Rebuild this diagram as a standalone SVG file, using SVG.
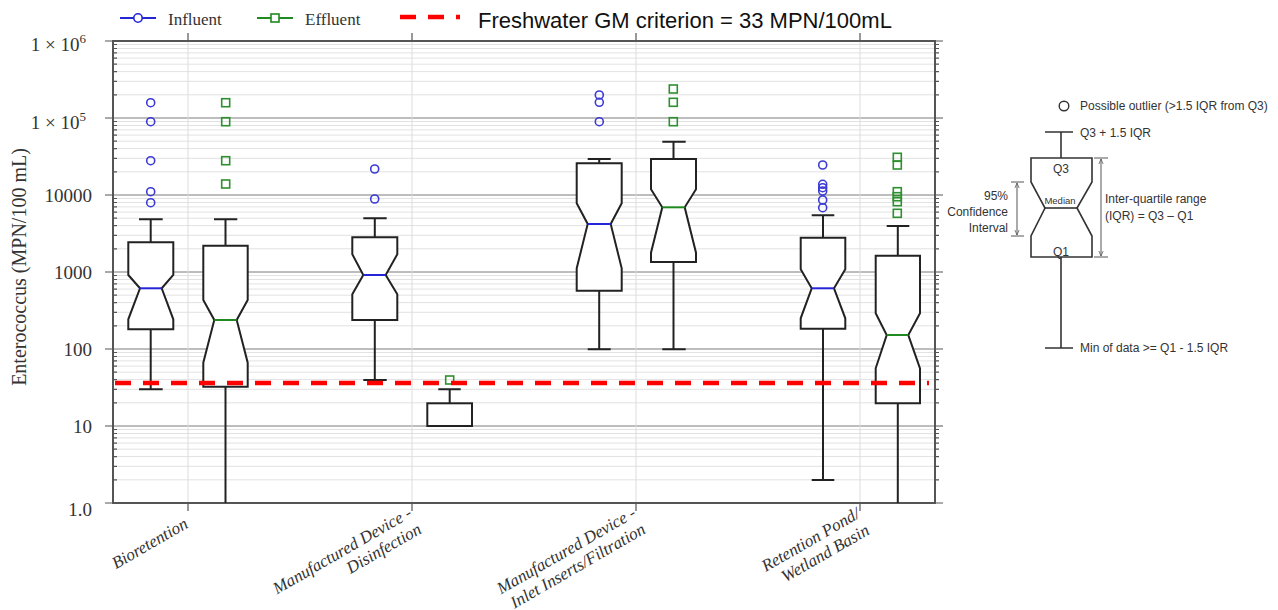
<svg xmlns="http://www.w3.org/2000/svg" width="1278" height="610" viewBox="0 0 1278 610">
<style>
.bg{fill:#ffffff}
.minor{stroke:#e2e2e2;stroke-width:1;fill:none}
.major{stroke:#a8a8a8;stroke-width:1.3;fill:none}
.vgrid{stroke:#dcdcdc;stroke-width:1;fill:none}
.axis{stroke:#555555;stroke-width:2;fill:none}
.tick{stroke:#555555;stroke-width:1.2;fill:none}
.box{fill:#ffffff;stroke:#222222;stroke-width:2}
.wh{stroke:#222222;stroke-width:2;fill:none}
.medI{stroke:#2525d8;stroke-width:2}
.medE{stroke:#1f8a1f;stroke-width:2}
.outI{fill:none;stroke:#3a3ad6;stroke-width:1.6}
.outE{fill:none;stroke:#2e8f2e;stroke-width:1.6}
.crit{stroke:#ff0000;stroke-width:4.3;stroke-dasharray:16 12;fill:none}
.ytl{font-family:"Liberation Serif",serif;font-size:19px;fill:#333333;text-anchor:end}
.xtl{font-family:"Liberation Serif",serif;font-style:italic;font-size:17px;fill:#333333;text-anchor:end}
.leg{font-family:"Liberation Serif",serif;font-size:17px;fill:#333333}
.crtxt{font-family:"Liberation Sans",Arial,sans-serif;font-size:22px;fill:#111111}
.key{font-family:"Liberation Sans",Arial,sans-serif;font-size:12px;fill:#333333}
.keys{font-family:"Liberation Sans",Arial,sans-serif;font-size:9.5px;fill:#333333}
.kl{stroke:#333333;stroke-width:1.6;fill:none}
.ka{stroke:#555555;stroke-width:1;fill:none}
</style>
<defs>
<marker id="ah" viewBox="0 0 8 8" refX="7" refY="4" markerWidth="6" markerHeight="6" orient="auto-start-reverse" markerUnits="userSpaceOnUse"><path d="M0,1 L7,4 L0,7" fill="none" stroke="#555555" stroke-width="1"/></marker>
<circle id="oc" r="4" class="outI"/>
<rect id="os" x="-4" y="-4" width="8" height="8" class="outE"/>
</defs>
<rect class="bg" x="0" y="0" width="1278" height="610"/>

<g id="grid">
<path class="minor" d="M113,479.8H935M113,466.3H935M113,456.6H935M113,449.2H935M113,443.1H935M113,437.9H935M113,433.5H935M113,429.5H935
M113,402.8H935M113,389.3H935M113,379.6H935M113,372.2H935M113,366.1H935M113,360.9H935M113,356.5H935M113,352.5H935
M113,325.8H935M113,312.3H935M113,302.6H935M113,295.2H935M113,289.1H935M113,283.9H935M113,279.5H935M113,275.5H935
M113,248.8H935M113,235.3H935M113,225.6H935M113,218.2H935M113,212.1H935M113,206.9H935M113,202.5H935M113,198.5H935
M113,171.8H935M113,158.3H935M113,148.6H935M113,141.2H935M113,135.1H935M113,129.9H935M113,125.5H935M113,121.5H935
M113,94.8H935M113,81.3H935M113,71.6H935M113,64.2H935M113,58.1H935M113,52.9H935M113,48.5H935M113,44.5H935"/>
<path class="major" d="M113,426H935M113,349H935M113,272H935M113,195H935M113,118H935"/>
<path class="vgrid" d="M188,41V503M412,41V503M636,41V503M860,41V503"/>
</g>

<g id="axes">
<path class="tick" d="M113,479.8h4M113,466.3h4M113,456.6h4M113,449.2h4M113,443.1h4M113,437.9h4M113,433.5h4M113,429.5h4
M113,402.8h4M113,389.3h4M113,379.6h4M113,372.2h4M113,366.1h4M113,360.9h4M113,356.5h4M113,352.5h4
M113,325.8h4M113,312.3h4M113,302.6h4M113,295.2h4M113,289.1h4M113,283.9h4M113,279.5h4M113,275.5h4
M113,248.8h4M113,235.3h4M113,225.6h4M113,218.2h4M113,212.1h4M113,206.9h4M113,202.5h4M113,198.5h4
M113,171.8h4M113,158.3h4M113,148.6h4M113,141.2h4M113,135.1h4M113,129.9h4M113,125.5h4M113,121.5h4
M113,94.8h4M113,81.3h4M113,71.6h4M113,64.2h4M113,58.1h4M113,52.9h4M113,48.5h4M113,44.5h4
M935,479.8h4M935,466.3h4M935,456.6h4M935,449.2h4M935,443.1h4M935,437.9h4M935,433.5h4M935,429.5h4
M935,402.8h4M935,389.3h4M935,379.6h4M935,372.2h4M935,366.1h4M935,360.9h4M935,356.5h4M935,352.5h4
M935,325.8h4M935,312.3h4M935,302.6h4M935,295.2h4M935,289.1h4M935,283.9h4M935,279.5h4M935,275.5h4
M935,248.8h4M935,235.3h4M935,225.6h4M935,218.2h4M935,212.1h4M935,206.9h4M935,202.5h4M935,198.5h4
M935,171.8h4M935,158.3h4M935,148.6h4M935,141.2h4M935,135.1h4M935,129.9h4M935,125.5h4M935,121.5h4
M935,94.8h4M935,81.3h4M935,71.6h4M935,64.2h4M935,58.1h4M935,52.9h4M935,48.5h4M935,44.5h4
M105,41h8M105,118h8M105,195h8M105,272h8M105,349h8M105,426h8M105,503h8
M935,41h8M935,118h8M935,195h8M935,272h8M935,349h8M935,426h8M935,503h8
M188,41v-8M412,41v-8M636,41v-8M860,41v-8M188,503v8M412,503v8M636,503v8M860,503v8"/>
<rect class="axis" x="113" y="41" width="822" height="462"/>
<text class="ytl" x="86" y="51">1 × 10<tspan font-size="13" dy="-8">6</tspan></text>
<text class="ytl" x="86" y="129">1 × 10<tspan font-size="13" dy="-8">5</tspan></text>
<text class="ytl" x="92" y="202">10000</text>
<text class="ytl" x="92" y="279">1000</text>
<text class="ytl" x="92" y="356">100</text>
<text class="ytl" x="92" y="433">10</text>
<text class="ytl" x="92" y="516">1.0</text>
<text x="26" y="267" transform="rotate(-90 26 267)" text-anchor="middle" font-family="Liberation Serif, serif" font-size="20" fill="#333333">Enterococcus (MPN/100 mL)</text>
<text class="xtl" transform="translate(189,527) rotate(-30)">Bioretention</text>
<text class="xtl" transform="translate(413,516) rotate(-30)"><tspan x="0" dy="0">Manufactured Device -</tspan><tspan x="0" dy="19">Disinfection</tspan></text>
<text class="xtl" transform="translate(637,516) rotate(-30)"><tspan x="0" dy="0">Manufactured Device -</tspan><tspan x="0" dy="19">Inlet Inserts/Filtration</tspan></text>
<text class="xtl" transform="translate(861,517) rotate(-30)"><tspan x="0" dy="0">Retention Pond/</tspan><tspan x="0" dy="19">Wetland Basin</tspan></text>
</g>

<g id="legend">
<path d="M120,18H156" stroke="#2525d8" stroke-width="2"/>
<circle cx="138" cy="18" r="4.2" fill="#ffffff" stroke="#2525d8" stroke-width="1.6"/>
<text class="leg" x="168" y="25">Influent</text>
<path d="M257,18H293" stroke="#1f8a1f" stroke-width="2"/>
<rect x="271" y="14" width="8" height="8" fill="#ffffff" stroke="#1f8a1f" stroke-width="1.6"/>
<text class="leg" x="305" y="25">Effluent</text>
<path d="M400,17H460" stroke="#ff0000" stroke-width="4.3" stroke-dasharray="16 12"/>
<text class="crtxt" x="478" y="28">Freshwater GM criterion = 33 MPN/100mL</text>
</g>

<g id="bio-influent">
<path class="wh" d="M150.7,242.3V219.3M139,219.3H162.7M150.7,329.3V389.3M139,389.3H162.7"/>
<path class="box" d="M128.3,242.3H173.3V275L161.7,288.3L173.3,319.3V329.3H128.3V319.3L140,288.3L128.3,275Z"/>
<path class="medI" d="M140,288.3H161.7"/>
<use href="#oc" x="150.7" y="102.7"/><use href="#oc" x="150.7" y="121.7"/><use href="#oc" x="150.7" y="160.7"/><use href="#oc" x="150.7" y="191.7"/><use href="#oc" x="150.7" y="202.7"/>
</g>
<g id="bio-effluent">
<path class="wh" d="M225.5,245.7V219.3M214,219.3H237.3M225.5,386.7V503"/>
<path class="box" d="M203.3,245.7H247.7V300L236.7,320L247.7,362.7V386.7H203.3V362.7L214.3,320L203.3,300Z"/>
<path class="medE" d="M214.3,320H236.7"/>
<use href="#os" x="225.7" y="102.7"/><use href="#os" x="225.7" y="121.7"/><use href="#os" x="225.7" y="160.7"/><use href="#os" x="225.7" y="184"/>
</g>
<g id="dis-influent">
<path class="wh" d="M374.8,237.3V218.3M363.3,218.3H386.7M374.8,320V380M363.3,380H386.7"/>
<path class="box" d="M352.3,237.3H397.3V254.3L385.7,275L397.3,294.3V320H352.3V294.3L363.3,275L352.3,254.3Z"/>
<path class="medI" d="M363.3,275H385.7"/>
<use href="#oc" x="374.7" y="169"/><use href="#oc" x="374.7" y="199"/>
</g>
<g id="dis-effluent">
<path class="wh" d="M449.7,403.3V389.3M438.3,389.3H460.7"/>
<rect class="box" x="427.3" y="403.3" width="44.7" height="22.7"/>
<use href="#os" x="449.7" y="380"/>
</g>
<g id="inlet-influent">
<path class="wh" d="M599.2,163.3V159M587.7,159H610.7M599.2,290.7V349.3M587.7,349.3H610.7"/>
<path class="box" d="M576.7,163.3H621.7V203.3L610.7,224L621.7,268.3V290.7H576.7V268.3L587.7,224L576.7,203.3Z"/>
<path class="medI" d="M587.7,224H610.7"/>
<use href="#oc" x="599.3" y="95"/><use href="#oc" x="599.3" y="102.3"/><use href="#oc" x="599.3" y="121.7"/>
</g>
<g id="inlet-effluent">
<path class="wh" d="M673.5,159V141.7M662.3,141.7H685.7M673.5,262V349.3M662.3,349.3H685.7"/>
<path class="box" d="M651,159H696V189.3L684.7,207.3L696,252.7V262H651V252.7L662.3,207.3L651,189.3Z"/>
<path class="medE" d="M662.3,207.3H684.7"/>
<use href="#os" x="673.3" y="89"/><use href="#os" x="673.3" y="102.3"/><use href="#os" x="673.3" y="121.7"/>
</g>
<g id="ret-influent">
<path class="wh" d="M823,237.7V215.3M811.7,215.3H834.3M823,328.7V480M811.7,480H834.3"/>
<path class="box" d="M800.7,237.7H845.3V269.3L834,288.3L845.3,318.3V328.7H800.7V318.3L811.7,288.3L800.7,269.3Z"/>
<path class="medI" d="M811.7,288.3H834"/>
<use href="#oc" x="822.7" y="165"/><use href="#oc" x="822.7" y="184.3"/><use href="#oc" x="822.7" y="187.7"/><use href="#oc" x="822.7" y="191"/><use href="#oc" x="822.7" y="200"/><use href="#oc" x="822.7" y="207.7"/>
</g>
<g id="ret-effluent">
<path class="wh" d="M897.8,255.7V226M886.7,226H909.3M897.8,403.3V503"/>
<path class="box" d="M875.7,255.7H920V313.3L908.3,335L920,368.3V403.3H875.7V368.3L886.7,335L875.7,313.3Z"/>
<path class="medE" d="M886.7,335H908.3"/>
<use href="#os" x="897.3" y="157.3"/><use href="#os" x="897.3" y="165"/><use href="#os" x="897.3" y="191.7"/><use href="#os" x="897.3" y="196.7"/><use href="#os" x="897.3" y="201.7"/><use href="#os" x="897.3" y="213.3"/>
</g>

<g id="criterion">
<path class="crit" d="M115,383H929"/>
</g>

<g id="key">
<circle cx="1064" cy="106" r="4.8" fill="none" stroke="#333333" stroke-width="1.4"/>
<text class="key" x="1080" y="110">Possible outlier (&gt;1.5 IQR from Q3)</text>
<path class="kl" d="M1045,132H1073M1061,132V158M1061,257V348M1045,348H1073"/>
<path class="kl" d="M1031,158H1092V182L1077,208L1092,236V257H1031V236L1045,208L1031,182Z"/>
<path class="kl" d="M1045,208H1077"/>
<text class="key" x="1061" y="173" text-anchor="middle">Q3</text>
<text class="keys" x="1060" y="204" text-anchor="middle">Median</text>
<text class="key" x="1061" y="256" text-anchor="middle">Q1</text>
<text class="key" x="1080" y="137">Q3 + 1.5 IQR</text>
<text class="key" x="1080" y="352">Min of data &gt;= Q1 - 1.5 IQR</text>
<path class="ka" d="M1094,158H1108M1094,257H1108"/>
<path class="ka" d="M1101,159V256" marker-start="url(#ah)" marker-end="url(#ah)"/>
<text class="key" x="1105" y="203">Inter-quartile range</text>
<text class="key" x="1105" y="220">(IQR) = Q3 – Q1</text>
<path class="ka" d="M1011,182H1024M1011,236H1024"/>
<path class="ka" d="M1017,183V235" marker-start="url(#ah)" marker-end="url(#ah)"/>
<text class="key" x="1008" y="200" text-anchor="end">95%</text>
<text class="key" x="1008" y="216" text-anchor="end">Confidence</text>
<text class="key" x="1008" y="232" text-anchor="end">Interval</text>
</g>
</svg>
